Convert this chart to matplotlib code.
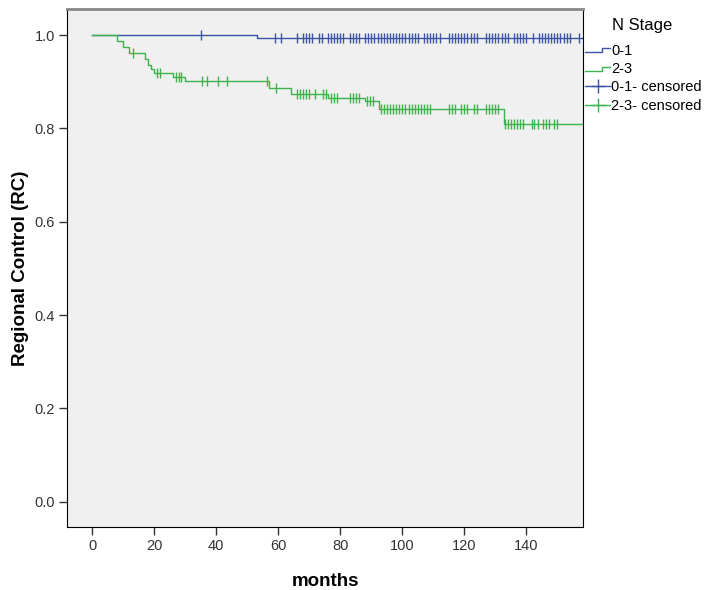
import numpy as np
import matplotlib
matplotlib.use("Agg")
import matplotlib.pyplot as plt
from matplotlib.lines import Line2D
from matplotlib.legend_handler import HandlerBase

plt.rcParams['font.family'] = ['Liberation Sans', 'DejaVu Sans']

# --- Kaplan-Meier step data ---
# N 0-1
t01 = [0, 53, 158]
s01 = [1.0, 0.993, 0.993]
c01_t = [35, 59, 61, 66, 68, 69, 70, 71, 73, 74, 76, 77, 78, 79, 80, 81, 83, 84, 85, 86,
         88, 89, 90, 91, 92, 93, 94, 95, 96, 97, 98, 99, 100, 101, 102, 103, 104, 105,
         107, 108, 109, 110, 111, 112, 115, 116, 117, 118, 119, 120, 121, 122, 123, 124,
         127, 128, 129, 130, 131, 132, 133, 134, 136, 137, 138, 139, 140, 142, 144, 145,
         146, 147, 148, 149, 150, 151, 152, 153, 154, 157]

# N 2-3
t23 = [0, 8, 10, 12, 17, 18, 19, 20, 26, 30, 57, 64, 76, 88, 92.5, 132.7, 158]
s23 = [1.0, 0.987, 0.974, 0.961, 0.948, 0.935, 0.928, 0.919, 0.910, 0.901,
       0.886, 0.874, 0.866, 0.858, 0.841, 0.809, 0.809]
c23_t = [13, 21, 22, 27, 28, 28.5, 35.3, 37, 40.7, 43.6, 56.4, 59.4, 66, 67, 68, 69, 70, 72,
         74.4, 75.3, 77, 78, 79, 83, 84, 85, 86, 88.5, 89.5, 90.5, 93, 94, 95, 96, 97, 98,
         99, 100, 101, 102, 103, 104, 105, 106, 107, 108, 109, 115, 116, 117, 119, 120,
         121, 123, 124, 127, 128, 129, 130, 131, 133, 134, 135, 136, 137, 138, 139,
         141.7, 142.5, 143.6, 145.5, 146.5, 147.4, 149, 150]

blue = '#3b54a8'
green = '#3cb44a'


def surv_at(times, surv, x):
    idx = np.searchsorted(times, x, side='right') - 1
    return np.array(surv)[idx]


class StepHandler(HandlerBase):
    # small step glyph as SPSS draws it in the legend
    def create_artists(self, legend, orig_handle, xdescent, ydescent, width, height, fontsize, trans):
        xs = [0, width * 0.67, width * 0.67, width]
        ys = [height * 0.22, height * 0.22, height * 0.62, height * 0.62]
        ln = Line2D(xs, ys, color=orig_handle.get_color(), lw=1, transform=trans)
        return [ln]


fig = plt.figure(figsize=(7.08, 5.9), dpi=100)
ax = fig.add_axes([0.095, 0.1068, 0.729, 0.878])
ax.set_facecolor('#f0f0f0')

ax.step(t01, s01, where='post', color=blue, lw=1)
ax.step(t23, s23, where='post', color=green, lw=1)
ax.plot(c01_t, surv_at(t01, s01, c01_t), ls='none', marker='|', ms=7.5, mew=1, color=blue)
ax.plot(c23_t, surv_at(t23, s23, c23_t), ls='none', marker='|', ms=7.5, mew=1, color=green)

ax.set_xlim(-8.06, 158.4)
ax.set_ylim(-0.054, 1.056)
ax.set_xticks(np.arange(0, 141, 20))
ax.set_yticks(np.arange(0, 1.01, 0.2))
ax.set_yticklabels([f'{v:.1f}' for v in np.arange(0, 1.01, 0.2)])
ax.tick_params(direction='out', length=6, width=1, labelsize=10.5, colors='#333333', pad=3)
for sp in ax.spines.values():
    sp.set_color('black')
ax.spines['top'].set_color('#888888')
ax.spines['top'].set_linewidth(2)

ax.set_xlabel('months', fontsize=13.5, fontweight='bold', labelpad=14)
ax.set_ylabel('Regional Control (RC)', fontsize=13.5, fontweight='bold', labelpad=4)

fig.text(0.907, 0.956, 'N Stage', ha='center', va='center', fontsize=12)
handles = [Line2D([], [], color=blue), Line2D([], [], color=green),
           Line2D([], [], color=blue, marker='+', ms=10, lw=1),
           Line2D([], [], color=green, marker='+', ms=10, lw=1)]
labels = ['0-1', '2-3', '0-1- censored', '2-3- censored']
leg = fig.legend(handles, labels, loc='upper left',
                 bbox_to_anchor=(0.826, 0.926), frameon=False, fontsize=10.5,
                 handlelength=1.75, handletextpad=0.05, borderpad=0,
                 labelspacing=0.3, borderaxespad=0,
                 handler_map={handles[0]: StepHandler(), handles[1]: StepHandler()})

fig.savefig('out.png', dpi=100)
